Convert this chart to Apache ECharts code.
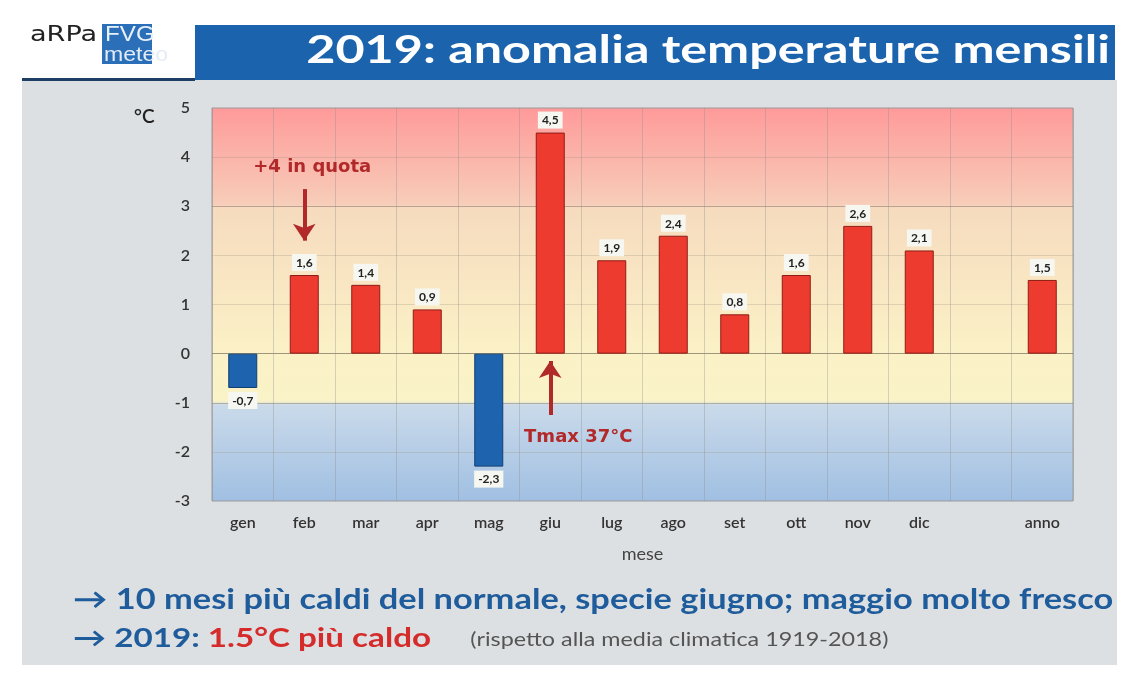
<!DOCTYPE html>
<html><head><meta charset="utf-8">
<script src="https://cdn.jsdelivr.net/npm/echarts@6/dist/echarts.min.js"></script>
<style>html,body{margin:0;padding:0;background:#fff}#c{width:1138px;height:683px}</style>
</head><body><div id="c"></div>
<script>
const categories = ['gen','feb','mar','apr','mag','giu','lug','ago','set','ott','nov','dic','','anno'];
const anomalies = [-0.7, 1.6, 1.4, 0.9, -2.3, 4.5, 1.9, 2.4, 0.8, 1.6, 2.6, 2.1, null, 1.5];
const yTicks = [-3,-2,-1,0,1,2,3,4,5];
const annotations = [
  {text: '+4 in quota', cat: 'feb', from: 3.35, to: 2.3, textAt: 3.8, dx: 8},
  {text: 'Tmax 37°C', cat: 'giu', from: -1.25, to: -0.15, textAt: -1.7, dx: 28}
];

const FONT = 'Lato, "Open Sans", sans-serif';
const SX = 1.229;
const chart = echarts.init(document.getElementById('c'), null, {renderer: 'canvas'});

const data = anomalies.map(v => {
  if (v === null) return null;
  const pos = v >= 0;
  return {
    value: v,
    itemStyle: {color: pos ? '#ee3b30' : '#1e63ad', borderColor: pos ? '#8e1c15' : '#123f72', borderWidth: 1},
    label: {position: pos ? 'top' : 'bottom'}
  };
});

const bgGrad = new echarts.graphic.LinearGradient(0, 0, 0, 1, [
  {offset: 0, color: '#ff9a9a'},
  {offset: 0.245, color: '#f7cdb9'},
  {offset: 0.255, color: '#f6dbbf'},
  {offset: 0.62, color: '#fbf1c6'},
  {offset: 0.745, color: '#faf3c8'},
  {offset: 0.755, color: '#cadaea'},
  {offset: 1, color: '#a0bfe2'}
]);

function stext(x, y, style, sx) {
  return {type: 'text', x: x, y: y, scaleX: sx || SX, originX: 0, originY: 0,
    style: Object.assign({x: 0, y: 0, textAlign: 'left', textVerticalAlign: 'middle'}, style)};
}

chart.setOption({
  animation: false,
  backgroundColor: '#fff',
  graphic: [
    {type: 'rect', shape: {x: 22, y: 80, width: 1095, height: 585}, style: {fill: '#dde0e2'}, z: -10},
    {type: 'rect', shape: {x: 195, y: 25, width: 920, height: 55}, style: {fill: '#1b63ad'}, z: -5},
    {type: 'rect', shape: {x: 22, y: 78, width: 173, height: 3}, style: {fill: '#1d3f66'}, z: -5},
    {type: 'rect', shape: {x: 102, y: 24, width: 50, height: 40}, style: {fill: '#2a6fb8'}, z: -5},
    stext(30, 36, {text: 'aRPa', font: '21px "DejaVu Sans"', fill: '#222'}, 1.29),
    stext(105, 35, {text: 'FVG', font: '22px "Liberation Sans"', fill: '#e8f0fa'}, 1.1),
    stext(104, 55, {text: 'meteo', font: '21px "Liberation Sans"', fill: '#e3ecf7'}, 1.1),
    {type: 'text', x: 1110, y: 50, scaleX: 1.29, originX: 0, originY: 0,
      style: {x: 0, y: 0, textAlign: 'right', textVerticalAlign: 'middle', text: '2019: anomalia temperature mensili', font: 'bold 39px ' + FONT, fill: '#ffffff'}},
    {type: 'text', x: 134, y: 117, style: {x: 0, y: 0, textVerticalAlign: 'middle', text: '°C', font: '600 19px ' + FONT, fill: '#222'}},
    stext(73, 600, {text: '→ 10 mesi più caldi del normale, specie giugno; maggio molto fresco', font: 'bold 28px ' + FONT, fill: '#1f5c9c'}),
    stext(73, 638, {
      text: '{b|→ 2019: }{r|1.5°C più caldo}{g|(rispetto alla media climatica 1919-2018)}',
      rich: {
        b: {font: 'bold 27px ' + FONT, fill: '#1f5c9c', color: '#1f5c9c'},
        r: {font: 'bold 27px ' + FONT, fill: '#d52b2b', color: '#d52b2b'},
        g: {font: '19px ' + FONT, fill: '#555', color: '#555', padding: [4, 0, 0, 32]}
      }
    })
  ],
  grid: {left: 212, right: 65, top: 108, bottom: 182, show: true, backgroundColor: bgGrad, borderColor: '#9a9a9a', borderWidth: 1},
  xAxis: {
    type: 'category', data: categories,
    axisLine: {show: false}, axisTick: {show: false},
    axisLabel: {fontFamily: FONT, fontWeight: 600, fontSize: 16, color: '#333', margin: 14},
    splitLine: {show: true, lineStyle: {color: 'rgba(140,140,140,0.35)', width: 1}},
    name: 'mese', nameLocation: 'middle', nameGap: 44,
    nameTextStyle: {fontFamily: FONT, fontSize: 18, color: '#444'}
  },
  yAxis: {
    type: 'value', min: yTicks[0], max: yTicks[yTicks.length - 1], interval: 1,
    axisLine: {show: false}, axisTick: {show: false},
    axisLabel: {fontFamily: FONT, fontWeight: 600, fontSize: 16, color: '#333', margin: 22},
    splitLine: {show: true, lineStyle: {color: ['rgba(0,0,0,0)', 'rgba(160,150,130,0.3)', 'rgba(140,130,110,0.55)', 'rgba(120,110,90,0.7)', 'rgba(160,150,130,0.3)', 'rgba(160,150,130,0.3)', 'rgba(140,120,110,0.55)', 'rgba(160,140,130,0.3)', 'rgba(0,0,0,0)']}}
  },
  series: [{
    type: 'bar', data: data, barWidth: 29,
    label: {
      show: true, distance: 4, fontFamily: FONT, fontWeight: 'bold', fontSize: 12, color: '#222',
      backgroundColor: '#f7f7f2', padding: [3, 4, 2, 4],
      formatter: p => String(p.value).replace('.', ',')
    },
    markLine: {
      silent: true, symbol: ['none', 'arrow'], symbolSize: 17,
      lineStyle: {color: '#b2292a', width: 4, type: 'solid'},
      label: {show: false},
      data: annotations.map(a => [{coord: [a.cat, a.from]}, {coord: [a.cat, a.to]}])
    },
    markPoint: {
      silent: true, symbol: 'circle', symbolSize: 0,
      label: {show: true, position: 'inside', fontFamily: '"DejaVu Sans", sans-serif', fontWeight: 'bold', fontSize: 18, color: '#b2292a', formatter: p => p.name},
      data: annotations.map(a => ({name: a.text, coord: [a.cat, a.textAt], label: {offset: [a.dx, 0]}}))
    }
  }]
});
</script></body></html>
